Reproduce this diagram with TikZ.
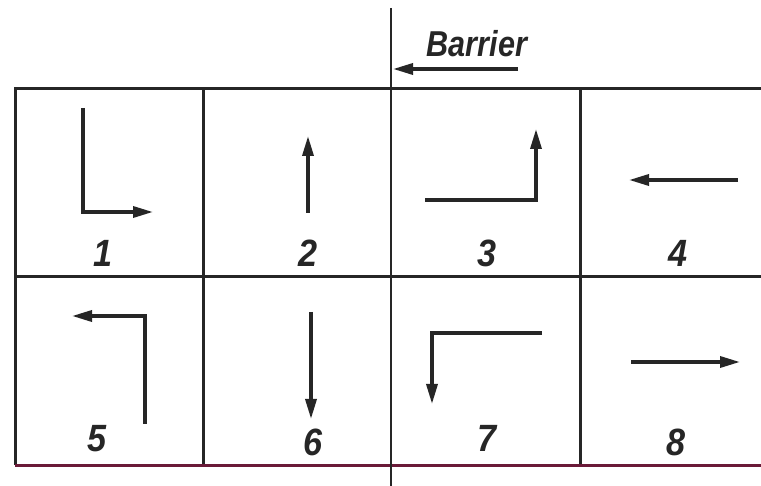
\documentclass[tikz,border=0pt]{standalone}
\usepackage{fontspec}
\setmainfont{Liberation Sans}
\usepackage{tikz}
\usetikzlibrary{arrows.meta}
\definecolor{inkred}{HTML}{6A1A38}

\begin{document}
\begin{tikzpicture}[x=1pt, y=-1pt,
        gridline/.style={line width=3pt, color=black!85},
        moveline/.style={line width=3.4pt, color=black!85, -{Triangle[length=20pt, width=11pt]}, line join=miter},
        cellnum/.style={font=\fontsize{38}{38}\selectfont\itshape\bfseries, color=black!85, anchor=base, xscale=0.9}]
        \useasboundingbox (0, 0) rectangle (761, 486);
        
        % grid
        \draw[gridline] (761, 89) -- (15, 89) -- (15, 465);
        \draw[gridline] (15, 277) -- (761, 277);
        \draw[gridline] (203, 89) -- (203, 465);
        \draw[gridline] (580, 89) -- (580, 465);
        \draw[gridline, color=inkred] (15, 465) -- (761, 465);
        
        % barrier
        \draw[line width=2.2pt, color=black!85] (391, 8) -- (391, 486);
        \draw[moveline] (518, 69) -- (393, 69);
        \node[font=\fontsize{36}{36}\selectfont\itshape\bfseries, color=black!85, anchor=base, xscale=0.85] (barrier) at (477, 57) {Barrier};
        
        % upper row
        \draw[moveline] (83, 108) -- (83, 212) -- (153, 212);
        \draw[moveline] (308, 213) -- (308, 136);
        \draw[moveline] (425, 200) -- (536, 200) -- (536, 129);
        \draw[moveline] (738, 180) -- (629, 180);
        
        % lower row
        \draw[moveline] (145, 424) -- (145, 316) -- (72, 316);
        \draw[moveline] (311, 312) -- (311, 419);
        \draw[moveline] (542, 333) -- (432, 333) -- (432, 404);
        \draw[moveline] (631, 362) -- (740, 362);
        
        % cell numbers
        \node[cellnum] (n1) at (103, 267) {1};
        \node[cellnum] (n2) at (308, 267) {2};
        \node[cellnum] (n3) at (487, 267) {3};
        \node[cellnum] (n4) at (678, 267) {4};
        \node[cellnum] (n5) at (97, 451) {5};
        \node[cellnum] (n6) at (313, 455) {6};
        \node[cellnum] (n7) at (487, 451) {7};
        \node[cellnum] (n8) at (676, 455) {8};
    \end{tikzpicture}
\end{document}
